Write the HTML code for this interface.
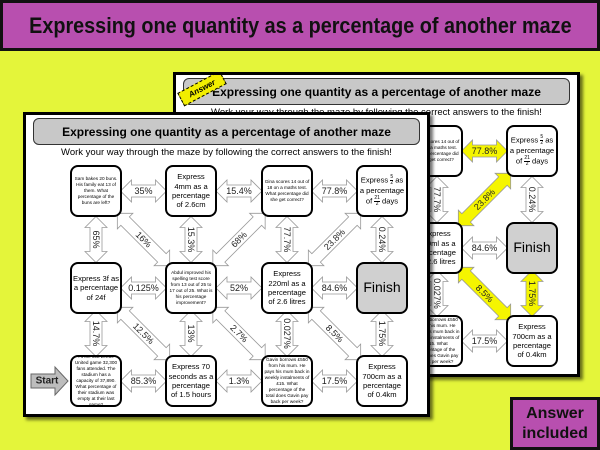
<!DOCTYPE html>
<html><head><meta charset="utf-8">
<style>
*{margin:0;padding:0;box-sizing:border-box}
body{width:600px;height:450px;background:#e4f53a;position:relative;overflow:hidden;font-family:"Liberation Sans",Arial,sans-serif}
#banner{position:absolute;left:0;top:0;width:600px;height:51px;background:#b84faf;border:3px solid #111;display:flex;align-items:center;justify-content:center}
#banner span{display:inline-block;font-weight:bold;font-size:22px;color:#111;transform:scaleX(0.9);white-space:nowrap}
.slide{position:absolute;width:407px;height:305px;background:#fff;border:3px solid #000;box-shadow:3px 3px 3px rgba(0,0,0,.55);overflow:hidden}
.inner{position:absolute;left:-3px;top:-3px;width:407px;height:305px}
.tbar{position:absolute;left:10px;top:6px;width:387px;height:27px;background:#c8c8c8;border:1.5px solid #333;border-radius:6px;display:flex;align-items:center;justify-content:center;font-weight:bold;font-size:12px;white-space:nowrap}
.sub{position:absolute;left:0;top:35px;width:407px;text-align:center;font-size:9.5px;white-space:nowrap}
.box{position:absolute;width:52px;height:52px;border:2px solid #000;border-radius:8px;background:#fff;display:flex;align-items:center;justify-content:center;text-align:center;font-size:7.6px;line-height:1.25;padding:1px;overflow:hidden}
.box.s{font-size:4.7px;line-height:1.3}
.box.fin{background:#d0d0d0;font-size:14px}
.fr{display:inline-flex;flex-direction:column;vertical-align:middle;font-size:5px;line-height:1;text-align:center}
.fr b{font-weight:normal;border-bottom:0.5px solid #000}
svg{position:absolute;left:0;top:0}
.ar{fill:#fff;stroke:#999;stroke-width:0.8}
.hl{fill:#f5f500;stroke:#999}
svg text{font-family:"Liberation Sans",Arial,sans-serif;font-size:9px;text-anchor:middle;dominant-baseline:central;fill:#222}
#tag{position:absolute;left:5px;top:9px;width:48px;height:15px;background:#f2ee00;border:1.5px dashed #000;transform:rotate(-28deg);font-size:8px;font-style:italic;font-weight:bold;display:flex;align-items:center;justify-content:center}
#ans{position:absolute;left:510px;top:397px;width:90px;height:53px;background:#b84faf;border:3px solid #111;display:flex;align-items:center;justify-content:center;text-align:center;font-weight:bold;font-size:16px;line-height:1.2;color:#111}
</style></head><body>
<div id="banner"><span>Expressing one quantity as a percentage of another maze</span></div>

<!-- BACK SLIDE -->
<div class="slide" style="left:173px;top:72px">
<div class="inner">
<div class="tbar">Expressing one quantity as a percentage of another maze</div>
<div class="sub">Work your way through the maze by following the correct answers to the finish!</div>
<svg width="407" height="305">
<defs>
<polygon id="h" points="-23,0 -12,-11 -12,-6 12,-6 12,-11 23,0 12,11 12,6 -12,6 -12,11"/>
<polygon id="d" points="-37,0 -26,-11 -26,-6 26,-6 26,-11 37,0 26,11 26,6 -26,6 -26,11"/>
</defs>
<g transform="translate(120.5,79)"><use href="#h" class="ar"/><text>35%</text></g>
<g transform="translate(216,79)"><use href="#h" class="ar"/><text>15.4%</text></g>
<g transform="translate(311.5,79)"><use href="#h" class="ar hl"/><text>77.8%</text></g>
<g transform="translate(120.5,176)"><use href="#h" class="ar"/><text>0.125%</text></g>
<g transform="translate(216,176)"><use href="#h" class="ar"/><text>52%</text></g>
<g transform="translate(311.5,176)"><use href="#h" class="ar"/><text>84.6%</text></g>
<g transform="translate(120.5,269)"><use href="#h" class="ar"/><text>85.3%</text></g>
<g transform="translate(216,269)"><use href="#h" class="ar"/><text>1.3%</text></g>
<g transform="translate(311.5,269)"><use href="#h" class="ar"/><text>17.5%</text></g>
<g transform="translate(73,127.5) rotate(90)"><use href="#h" class="ar"/><text>65%</text></g>
<g transform="translate(168,127.5) rotate(90)"><use href="#h" class="ar"/><text>15.3%</text></g>
<g transform="translate(264,127.5) rotate(90)"><use href="#h" class="ar"/><text>77.7%</text></g>
<g transform="translate(359,127.5) rotate(90)"><use href="#h" class="ar"/><text>0.24%</text></g>
<g transform="translate(73,221.5) rotate(90)"><use href="#h" class="ar"/><text>14.7%</text></g>
<g transform="translate(168,221.5) rotate(90)"><use href="#h" class="ar"/><text>13%</text></g>
<g transform="translate(264,221.5) rotate(90)"><use href="#h" class="ar"/><text>0.027%</text></g>
<g transform="translate(359,221.5) rotate(90)"><use href="#h" class="ar hl"/><text>1.75%</text></g>
<g transform="translate(120.5,127.5) rotate(45)"><use href="#d" class="ar"/><text>16%</text></g>
<g transform="translate(216,127.5) rotate(-45)"><use href="#d" class="ar"/><text>68%</text></g>
<g transform="translate(311.5,127.5) rotate(-45)"><use href="#d" class="ar hl"/><text>23.8%</text></g>
<g transform="translate(120.5,221.5) rotate(45)"><use href="#d" class="ar"/><text>12.5%</text></g>
<g transform="translate(216,221.5) rotate(45)"><use href="#d" class="ar"/><text>2.7%</text></g>
<g transform="translate(311.5,221.5) rotate(45)"><use href="#d" class="ar hl"/><text>8.5%</text></g>
</svg>
<div class="box s" style="left:47px;top:53px">Sam bakes 20 buns. His family eat 13 of them. What percentage of the buns are left?</div>
<div class="box" style="left:142px;top:53px">Express 4mm as a percentage of 2.6cm</div>
<div class="box s" style="left:238px;top:53px">Gina scores 14 out of 18 on a maths test. What percentage did she get correct?</div>
<div class="box" style="left:333px;top:53px"><div>Express <span class="fr"><b>5</b>2</span> as a percentage of <span class="fr"><b>21</b>2</span> days</div></div>
<div class="box" style="left:47px;top:150px">Express 3f as a percentage of 24f</div>
<div class="box s" style="left:142px;top:150px">Abdul improved his spelling test score from 13 out of 25 to 17 out of 25. What is his percentage improvement?</div>
<div class="box" style="left:238px;top:150px">Express 220ml as a percentage of 2.6 litres</div>
<div class="box fin" style="left:333px;top:150px">Finish</div>
<div class="box s" style="left:47px;top:243px">At the last Leeds United game 32,300 fans attended. The stadium has a capacity of 37,890. What percentage of their stadium was empty at their last game?</div>
<div class="box" style="left:142px;top:243px">Express 70 seconds as a percentage of 1.5 hours</div>
<div class="box s" style="left:238px;top:243px">Gavin borrows £550 from his mum. He pays his mum back in weekly instalments of £15. What percentage of the total does Gavin pay back per week?</div>
<div class="box" style="left:333px;top:243px">Express 700cm as a percentage of 0.4km</div>
<div id="tag">Answer</div>
</div></div>

<!-- FRONT SLIDE -->
<div class="slide" style="left:23px;top:112px">
<div class="inner">
<div class="tbar">Expressing one quantity as a percentage of another maze</div>
<div class="sub">Work your way through the maze by following the correct answers to the finish!</div>
<svg width="407" height="305">
<g transform="translate(120.5,79)"><use href="#h" class="ar"/><text>35%</text></g>
<g transform="translate(216,79)"><use href="#h" class="ar"/><text>15.4%</text></g>
<g transform="translate(311.5,79)"><use href="#h" class="ar"/><text>77.8%</text></g>
<g transform="translate(120.5,176)"><use href="#h" class="ar"/><text>0.125%</text></g>
<g transform="translate(216,176)"><use href="#h" class="ar"/><text>52%</text></g>
<g transform="translate(311.5,176)"><use href="#h" class="ar"/><text>84.6%</text></g>
<g transform="translate(120.5,269)"><use href="#h" class="ar"/><text>85.3%</text></g>
<g transform="translate(216,269)"><use href="#h" class="ar"/><text>1.3%</text></g>
<g transform="translate(311.5,269)"><use href="#h" class="ar"/><text>17.5%</text></g>
<g transform="translate(73,127.5) rotate(90)"><use href="#h" class="ar"/><text>65%</text></g>
<g transform="translate(168,127.5) rotate(90)"><use href="#h" class="ar"/><text>15.3%</text></g>
<g transform="translate(264,127.5) rotate(90)"><use href="#h" class="ar"/><text>77.7%</text></g>
<g transform="translate(359,127.5) rotate(90)"><use href="#h" class="ar"/><text>0.24%</text></g>
<g transform="translate(73,221.5) rotate(90)"><use href="#h" class="ar"/><text>14.7%</text></g>
<g transform="translate(168,221.5) rotate(90)"><use href="#h" class="ar"/><text>13%</text></g>
<g transform="translate(264,221.5) rotate(90)"><use href="#h" class="ar"/><text>0.027%</text></g>
<g transform="translate(359,221.5) rotate(90)"><use href="#h" class="ar"/><text>1.75%</text></g>
<g transform="translate(120.5,127.5) rotate(45)"><use href="#d" class="ar"/><text>16%</text></g>
<g transform="translate(216,127.5) rotate(-45)"><use href="#d" class="ar"/><text>68%</text></g>
<g transform="translate(311.5,127.5) rotate(-45)"><use href="#d" class="ar"/><text>23.8%</text></g>
<g transform="translate(120.5,221.5) rotate(45)"><use href="#d" class="ar"/><text>12.5%</text></g>
<g transform="translate(216,221.5) rotate(45)"><use href="#d" class="ar"/><text>2.7%</text></g>
<g transform="translate(311.5,221.5) rotate(45)"><use href="#d" class="ar"/><text>8.5%</text></g>
<g><polygon points="8,262 32,262 32,255 45,269 32,283 32,276 8,276" fill="#bdbdbd" stroke="#666" stroke-width="1"/><text x="24" y="269" style="font-weight:bold;font-size:10px">Start</text></g>
</svg>
<div class="box s" style="left:47px;top:53px">Sam bakes 20 buns. His family eat 13 of them. What percentage of the buns are left?</div>
<div class="box" style="left:142px;top:53px">Express 4mm as a percentage of 2.6cm</div>
<div class="box s" style="left:238px;top:53px">Gina scores 14 out of 18 on a maths test. What percentage did she get correct?</div>
<div class="box" style="left:333px;top:53px"><div>Express <span class="fr"><b>5</b>2</span> as a percentage of <span class="fr"><b>21</b>2</span> days</div></div>
<div class="box" style="left:47px;top:150px">Express 3f as a percentage of 24f</div>
<div class="box s" style="left:142px;top:150px">Abdul improved his spelling test score from 13 out of 25 to 17 out of 25. What is his percentage improvement?</div>
<div class="box" style="left:238px;top:150px">Express 220ml as a percentage of 2.6 litres</div>
<div class="box fin" style="left:333px;top:150px">Finish</div>
<div class="box s" style="left:47px;top:243px">At the last Leeds United game 32,300 fans attended. The stadium has a capacity of 37,890. What percentage of their stadium was empty at their last game?</div>
<div class="box" style="left:142px;top:243px">Express 70 seconds as a percentage of 1.5 hours</div>
<div class="box s" style="left:238px;top:243px">Gavin borrows £550 from his mum. He pays his mum back in weekly instalments of £15. What percentage of the total does Gavin pay back per week?</div>
<div class="box" style="left:333px;top:243px">Express 700cm as a percentage of 0.4km</div>
</div></div>

<div id="ans">Answer<br>included</div>
</body></html>
